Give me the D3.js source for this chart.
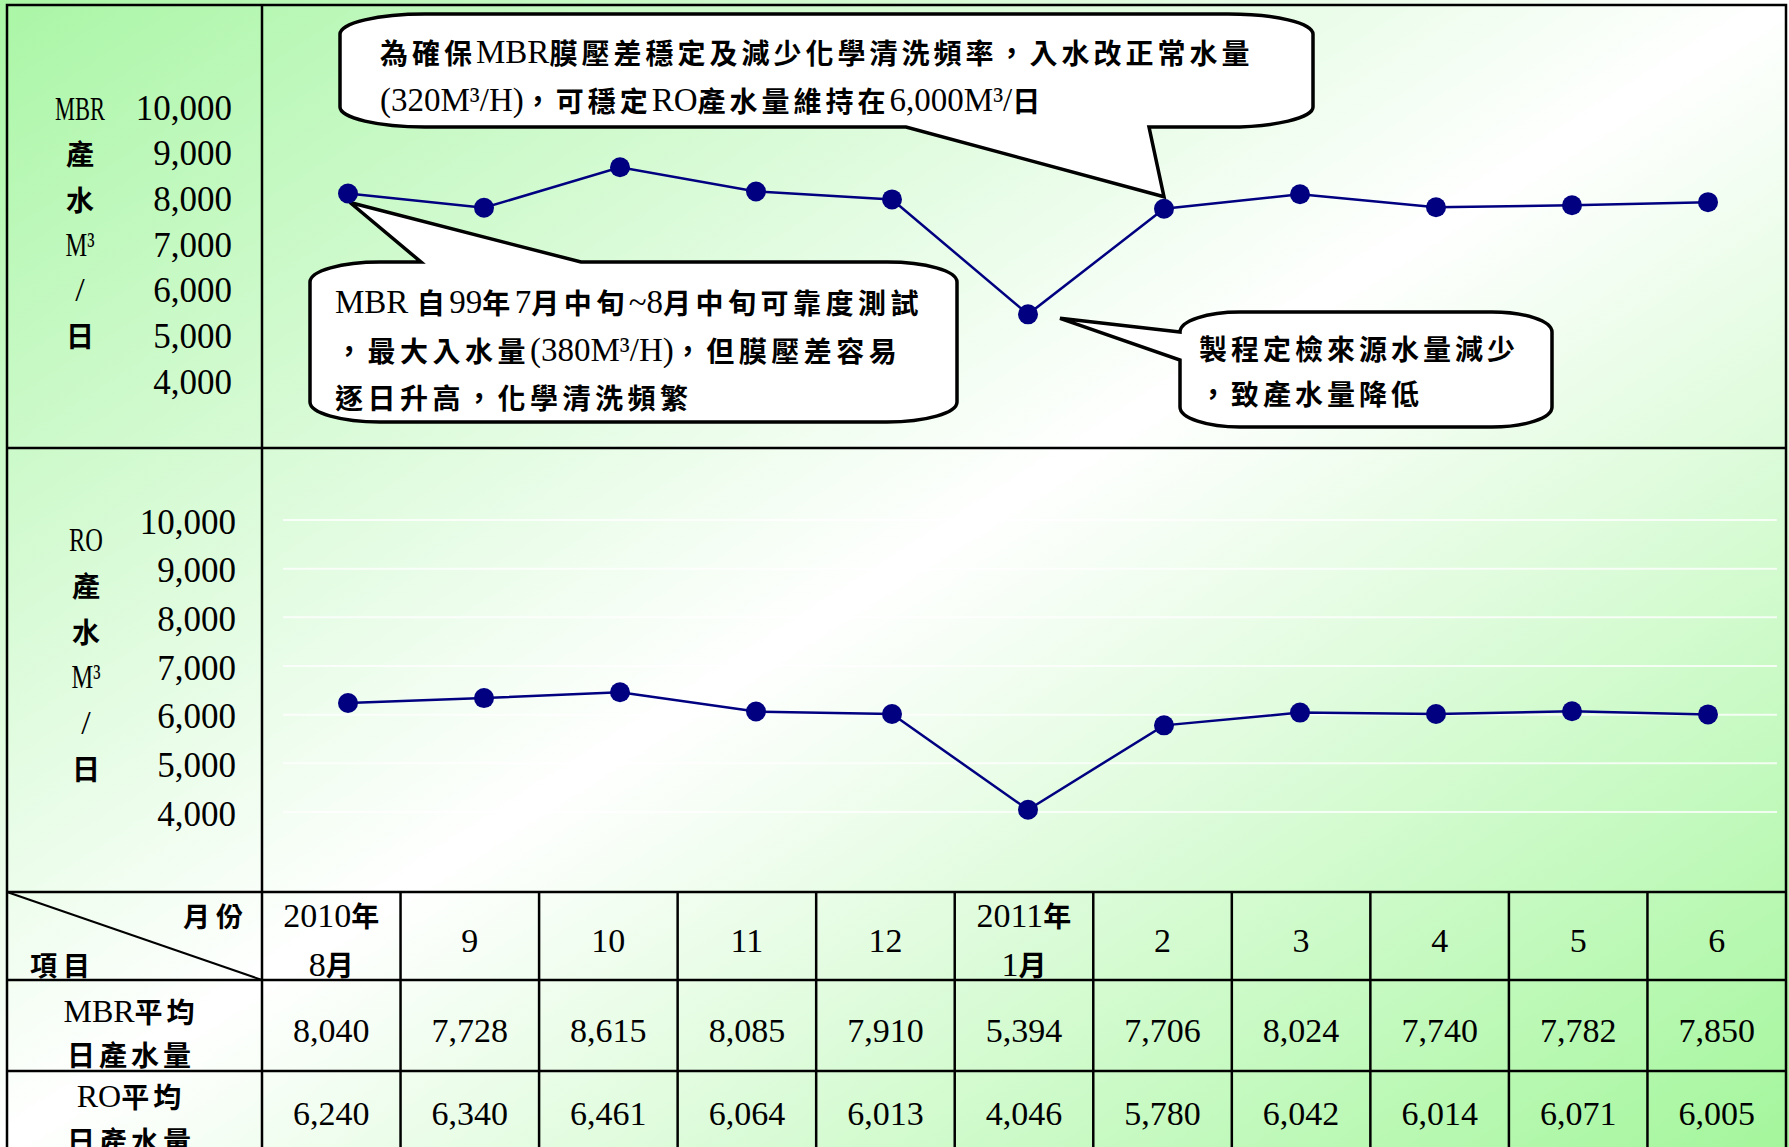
<!DOCTYPE html>
<html>
<head>
<meta charset="utf-8">
<script src="https://cdn.jsdelivr.net/npm/d3@7"></script>
<style>
  body { margin: 0; background: #fff; }
</style>
</head>
<body>
<div id="chart"></div>
<script>
// ---- data ----
var months = [["2010年", "8月"], ["9"], ["10"], ["11"], ["12"], ["2011年", "1月"], ["2"], ["3"], ["4"], ["5"], ["6"]];
var mbrValues = [8040, 7728, 8615, 8085, 7910, 5394, 7706, 8024, 7740, 7782, 7850];
var roValues = [6240, 6340, 6461, 6064, 6013, 4046, 5780, 6042, 6014, 6071, 6005];
var yTicks = [10000, 9000, 8000, 7000, 6000, 5000, 4000];
var mbrTitle = ["MBR", "產", "水", "M³", "/", "日"];
var roTitle = ["RO", "產", "水", "M³", "/", "日"];
var rowTitles = [["MBR平均", "日產水量"], ["RO平均", "日產水量"]];
var noteTop = ["為確保MBR膜壓差穩定及減少化學清洗頻率，入水改正常水量", "(320M³/H)，可穩定RO產水量維持在6,000M³/日"];
var noteTest = ["MBR 自99年7月中旬~8月中旬可靠度測試", "，最大入水量(380M³/H)，但膜壓差容易", "逐日升高，化學清洗頻繁"];
var noteDrop = ["製程定檢來源水量減少", "，致產水量降低"];

var W = 1789, H = 1147;
var NUM_FONT = '"Liberation Serif", "Noto Sans CJK TC", serif';
var CJK_FONT = '"Noto Sans CJK TC", sans-serif';
var CJK_RE = /[\u2E80-\u9FFF\uFF00-\uFFEF]/;

var svg = d3.select("#chart").append("svg")
    .attr("width", W)
    .attr("height", H);

// background gradient: green corners, white across the middle
var defs = svg.append("defs");
var grad = defs.append("linearGradient")
    .attr("id", "bg")
    .attr("x1", 0).attr("y1", 0).attr("x2", 1).attr("y2", 1);
grad.append("stop").attr("offset", "0%").attr("stop-color", "#aaf6a6");
grad.append("stop").attr("offset", "50%").attr("stop-color", "#ffffff");
grad.append("stop").attr("offset", "100%").attr("stop-color", "#a4f69c");

svg.append("rect")
    .attr("width", W).attr("height", H)
    .attr("fill", "url(#bg)");

// mixed text: CJK runs heavy and spaced, latin runs in the serif face
function richText(sel, str, latinWeight, cjkSpacing, latinSize) {
    str.split(/([\u2E80-\u9FFF\uFF00-\uFFEF]+)/).filter(s => s.length).forEach(function(p) {
        var cjk = CJK_RE.test(p);
        sel.append("tspan")
            .style("font-family", cjk ? CJK_FONT : NUM_FONT)
            .style("font-weight", cjk ? 700 : (latinWeight || 400))
            .style("letter-spacing", cjk && cjkSpacing ? cjkSpacing + "px" : null)
            .style("font-size", !cjk && latinSize ? latinSize + "px" : null)
            .text(p);
    });
}

// scales
var idx = d3.range(months.length);
var x = d3.scalePoint().domain(idx).range([348, 1708]);
var yMbr = d3.scaleLinear().domain([4000, 10000]).range([378, 104]);
var yRo = d3.scaleLinear().domain([4000, 10000]).range([812, 520]);
var col = d3.scaleBand().domain(idx).range([262, 1786]);

// faint white gridlines in the RO panel
svg.append("g")
    .selectAll("line")
    .data(yTicks)
    .enter()
    .append("line")
    .attr("x1", 283).attr("x2", 1777)
    .attr("y1", d => yRo(d)).attr("y2", d => yRo(d))
    .attr("stroke", "#ffffff")
    .attr("stroke-width", 2)
    .attr("opacity", 0.8);

// frame and table grid
var grid = svg.append("g")
    .attr("stroke", "#000")
    .attr("stroke-width", 2.5)
    .attr("fill", "none");

grid.append("path").attr("d", `M7,${H + 5}V5H1786V${H + 5}`);
grid.append("line").attr("x1", 262).attr("x2", 262).attr("y1", 5).attr("y2", H + 5);
[448, 892, 980, 1071].forEach(function(yy) {
    grid.append("line").attr("x1", 7).attr("x2", 1786).attr("y1", yy).attr("y2", yy);
});
grid.selectAll(".vcol")
    .data(idx.slice(1))
    .enter()
    .append("line")
    .attr("class", "vcol")
    .attr("x1", d => col(d)).attr("x2", d => col(d))
    .attr("y1", 892).attr("y2", H + 5);
grid.append("line")
    .attr("x1", 7).attr("y1", 892)
    .attr("x2", 262).attr("y2", 980)
    .attr("stroke-width", 2);

// y tick labels
function tickLabels(scale, xr, dy) {
    svg.append("g")
        .selectAll("text")
        .data(yTicks)
        .enter()
        .append("text")
        .attr("x", xr)
        .attr("y", d => scale(d) + dy)
        .attr("text-anchor", "end")
        .attr("dominant-baseline", "central")
        .style("font-family", NUM_FONT)
        .style("font-size", "35px")
        .text(d => d3.format(",")(d));
}
tickLabels(yMbr, 232, 4);
tickLabels(yRo, 236, 2);

// vertical axis titles
var titleLen = {"MBR": 50, "RO": 34, "M³": 29};
function axisTitle(words, cx, y0, step) {
    svg.append("g")
        .selectAll("text")
        .data(words)
        .enter()
        .append("text")
        .attr("x", cx)
        .attr("y", (d, i) => y0 + i * step)
        .attr("text-anchor", "middle")
        .attr("dominant-baseline", "central")
        .attr("textLength", d => titleLen[d] || null)
        .attr("lengthAdjust", "spacingAndGlyphs")
        .style("font-size", d => CJK_RE.test(d) ? "28px" : "34px")
        .each(function(d) { richText(d3.select(this), d); });
}
axisTitle(mbrTitle, 80, 108, 45.3);
axisTitle(roTitle, 86, 539, 45.8);

// callouts
function calloutPath(b, w) {
    var p = `M${b.x0 + b.rx},${b.y0}`;
    if (w.side === "top") p += `L${w.a},${b.y0}L${w.tip[0]},${w.tip[1]}L${w.b},${b.y0}`;
    p += `L${b.x1 - b.rx},${b.y0}A${b.rx},${b.ry} 0 0 1 ${b.x1},${b.y0 + b.ry}`;
    p += `L${b.x1},${b.y1 - b.ry}A${b.rx},${b.ry} 0 0 1 ${b.x1 - b.rx},${b.y1}`;
    if (w.side === "bottom") p += `L${w.b},${b.y1}L${w.tip[0]},${w.tip[1]}L${w.a},${b.y1}`;
    p += `L${b.x0 + b.rx},${b.y1}A${b.rx},${b.ry} 0 0 1 ${b.x0},${b.y1 - b.ry}`;
    if (w.side === "left") p += `L${b.x0},${w.b}L${w.tip[0]},${w.tip[1]}L${b.x0},${w.a}`;
    p += `L${b.x0},${b.y0 + b.ry}A${b.rx},${b.ry} 0 0 1 ${b.x0 + b.rx},${b.y0}Z`;
    return p;
}

var callouts = [
    {
        box: {x0: 340, y0: 14, x1: 1313, y1: 127, rx: 85, ry: 20},
        wedge: {side: "bottom", a: 906, b: 1149, tip: [x(6), yMbr(mbrValues[6]) - 12]},
        lines: noteTop, tx: 380, ty: [52, 100], gap: 4
    },
    {
        box: {x0: 310, y0: 262, x1: 957, y1: 422, rx: 70, ry: 20},
        wedge: {side: "top", a: 421, b: 581, tip: [x(0) + 2, yMbr(mbrValues[0]) + 9]},
        lines: noteTest, tx: 335, ty: [302, 350, 397], gap: 4.5
    },
    {
        box: {x0: 1180, y0: 312, x1: 1552, y1: 427, rx: 60, ry: 20},
        wedge: {side: "left", a: 332, b: 360, tip: [x(5) + 32, yMbr(mbrValues[5]) + 4]},
        lines: noteDrop, tx: 1199, ty: [348, 393], gap: 4
    }
];

callouts.forEach(function(c) {
    var g = svg.append("g");
    g.append("path")
        .attr("d", calloutPath(c.box, c.wedge))
        .attr("fill", "#ffffff")
        .attr("stroke", "#000")
        .attr("stroke-width", 3.5)
        .attr("stroke-linejoin", "miter");
    g.selectAll("text")
        .data(c.lines)
        .enter()
        .append("text")
        .attr("x", c.tx)
        .attr("y", (d, i) => c.ty[i])
        .attr("dominant-baseline", "central")
        .style("font-size", "28px")
        .each(function(d) { richText(d3.select(this), d, 400, c.gap, 33); });
});

// series lines and markers
function drawSeries(values, scale) {
    var line = d3.line()
        .x((d, i) => x(i))
        .y(d => scale(d));
    svg.append("path")
        .datum(values)
        .attr("d", line)
        .attr("fill", "none")
        .attr("stroke", "#000080")
        .attr("stroke-width", 2.5);
    svg.append("g")
        .selectAll("circle")
        .data(values)
        .enter()
        .append("circle")
        .attr("cx", (d, i) => x(i))
        .attr("cy", d => scale(d))
        .attr("r", 10)
        .attr("fill", "#000080");
}
drawSeries(mbrValues, yMbr);
drawSeries(roValues, yRo);

// table texts
var table = svg.append("g")
    .style("font-family", NUM_FONT)
    .style("font-size", "34px");

table.append("text")
    .attr("x", 249).attr("y", 915)
    .attr("text-anchor", "end")
    .attr("dominant-baseline", "central")
    .style("font-size", "27px")
    .each(function() { richText(d3.select(this), "月份", 400, 6); });
table.append("text")
    .attr("x", 30).attr("y", 964)
    .attr("dominant-baseline", "central")
    .style("font-size", "27px")
    .each(function() { richText(d3.select(this), "項目", 400, 6); });

months.forEach(function(m, i) {
    var cx = col(i) + col.bandwidth() / 2;
    var ys = m.length > 1 ? [915, 964] : [940];
    m.forEach(function(t, j) {
        table.append("text")
            .attr("x", cx)
            .attr("y", ys[j])
            .attr("text-anchor", "middle")
            .attr("dominant-baseline", "central")
            .each(function() { richText(d3.select(this), t); })
            .selectAll("tspan")
            .filter(function() { return CJK_RE.test(this.textContent); })
            .style("font-size", "28px");
    });
});

[[mbrValues, 1030], [roValues, 1113]].forEach(function(row) {
    table.append("g")
        .selectAll("text")
        .data(row[0])
        .enter()
        .append("text")
        .attr("x", (d, i) => col(i) + col.bandwidth() / 2)
        .attr("y", row[1])
        .attr("text-anchor", "middle")
        .attr("dominant-baseline", "central")
        .text(d => d3.format(",")(d));
});

var rowY = [[1011, 1054], [1096, 1140]];
rowTitles.forEach(function(r, i) {
    r.forEach(function(t, j) {
        table.append("text")
            .attr("x", 131)
            .attr("y", rowY[i][j])
            .attr("text-anchor", "middle")
            .attr("dominant-baseline", "central")
            .style("font-size", "28px")
            .each(function() { richText(d3.select(this), t, 400, 4, 32); });
    });
});
</script>
</body>
</html>
